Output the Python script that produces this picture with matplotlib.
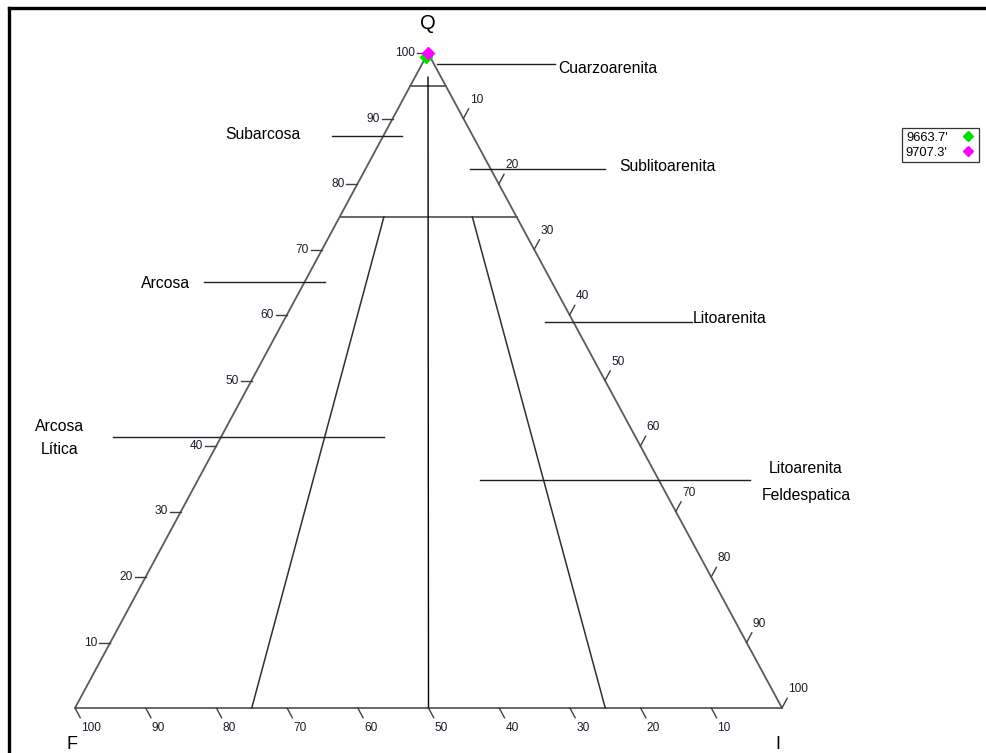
import numpy as np
import matplotlib
matplotlib.use("Agg")
import matplotlib.pyplot as plt
from matplotlib.lines import Line2D

plt.rcParams['font.family'] = ['Liberation Sans', 'DejaVu Sans']

# ---- data -------------------------------------------------------------
sample_names = ["9663.7'", "9707.3'"]
sample_q = [99.4, 100.0]          # quartz %
sample_f = [0.6, 0.0]             # feldspar %
sample_l = [0.0, 0.0]             # lithics %
sample_colors = ['#00e000', '#ff00ff']

tick_values = [10, 20, 30, 40, 50, 60, 70, 80, 90, 100]

# Folk classification boundaries
q_boundaries = [95, 75]                 # horizontal Q lines
split_ratios = [0.25, 0.75]             # L/(F+L) splits below Q=75
center_ratio = 0.5                      # F:L = 1:1 split

field_names = ['Cuarzoarenita', 'Subarcosa', 'Sublitoarenita', 'Arcosa',
               'Litoarenita', 'Arcosa\nLítica', 'Litoarenita\nFeldespatica']

# ---- layout -----------------------------------------------------------
W, H = 987, 753
V_Q = np.array([428.0, 53.0])
V_F = np.array([75.0, 708.0])
V_L = np.array([782.0, 708.0])


def tern(q, f, l):
    q, f, l = np.asarray(q, float), np.asarray(f, float), np.asarray(l, float)
    s = q + f + l
    x = (q * V_Q[0] + f * V_F[0] + l * V_L[0]) / s
    y = (q * V_Q[1] + f * V_F[1] + l * V_L[1]) / s
    return x, y


def unit(v):
    return v / np.hypot(*v)


fig = plt.figure(figsize=(W / 100, H / 100), dpi=100)
ax = fig.add_axes([0, 0, 1, 1])
ax.set_xlim(0, W)
ax.set_ylim(H, 0)
ax.axis('off')

# outer frame
ax.plot([9, W + 5], [7.5, 7.5], color='black', lw=2.4, solid_capstyle='projecting', clip_on=False)
ax.plot([9, 9], [7.5, H + 5], color='black', lw=2.4, solid_capstyle='projecting', clip_on=False)

edge_col = '#5a5a5a'
# triangle outline
tx, ty = tern([100, 0, 0, 100], [0, 100, 0, 0], [0, 0, 100, 0])
ax.plot(tx, ty, color=edge_col, lw=1.3, zorder=2)

# horizontal Q boundaries
for qb in q_boundaries:
    x, y = tern([qb, qb], [100 - qb, 0], [0, 100 - qb])
    ax.plot(x, y, color=edge_col, lw=1.3, zorder=2)

# central 1:1 line
x, y = tern([96.3, 0], [(100 - 96.3) * (1 - center_ratio), 100 * (1 - center_ratio)],
            [(100 - 96.3) * center_ratio, 100 * center_ratio])
ax.plot(x, y, color='black', lw=1.0, zorder=2)

# 3:1 and 1:3 lines below Q=75
for r in split_ratios:
    qs = np.array([q_boundaries[1], 0])
    x, y = tern(qs, (100 - qs) * (1 - r), (100 - qs) * r)
    ax.plot(x, y, color='#303030', lw=1.1, zorder=2)

# ---- ticks and tick labels --------------------------------------------
tick_len = 11
tick_col = '#404040'
lab_col = '#1c1c2a'
tick_fs = 8.6
d_left = unit(V_F - V_L)
d_right = unit(V_Q - V_F)
d_bottom = unit(V_L - V_Q)
for v in tick_values:
    # Q scale, left edge
    p = np.array(tern(v, 100 - v, 0))
    e = p + d_left * tick_len
    ax.plot([p[0], e[0]], [p[1], e[1]], color=tick_col, lw=1.0)
    ax.text(e[0] - 2, e[1], str(v), ha='right', va='center', fontsize=tick_fs, color=lab_col)
    # L scale, right edge
    p = np.array(tern(100 - v, 0, v))
    e = p + d_right * tick_len
    ax.plot([p[0], e[0]], [p[1], e[1]], color=tick_col, lw=1.0)
    ax.text(e[0] + 1, e[1] - 3, str(v), ha='left', va='bottom', fontsize=tick_fs, color=lab_col)
    # F scale, bottom edge
    p = np.array(tern(0, v, 100 - v))
    e = p + d_bottom * tick_len
    ax.plot([p[0], e[0]], [p[1], e[1]], color=tick_col, lw=1.0)
    ax.text(e[0] + 1, e[1] + 4, str(v), ha='left', va='top', fontsize=tick_fs, color=lab_col)

# corner labels
ax.text(V_Q[0], 23, 'Q', ha='center', va='center', fontsize=14.5)
ax.text(72, 749, 'F', ha='center', va='baseline', fontsize=13)
ax.text(778, 749, 'I', ha='center', va='baseline', fontsize=13)

# ---- field labels with leader lines -----------------------------------
leaders = [
    ((437, 555), 64, (558, 68), 'left', 1.2),
    ((332, 402), 136, (301, 134), 'right', 1.2),
    ((470, 605), 169, (619, 166), 'left', 1.2),
    ((204, 325), 282, (190, 283), 'right', 1.2),
    ((545, 692), 322, (693, 318), 'left', 1.2),
    ((113, 384), 437, (60, 438), 'center', 1.65),
    ((480, 750), 480, (806, 482), 'center', 2.0),
]
for name, (xs, yl, tp, ha, ls) in zip(field_names, leaders):
    ax.plot(xs, [yl, yl], color='#202020', lw=1.0)
    ax.text(tp[0], tp[1], name, ha=ha, va='center', fontsize=11.3,
            linespacing=ls, color='black')

# ---- samples ----------------------------------------------------------
handles = []
for name, q, f, l, c in zip(sample_names, sample_q, sample_f, sample_l, sample_colors):
    x, y = tern(q, f, l)
    ax.plot(x, y, marker='D', ms=6.5, color=c, mec=c, ls='none', zorder=5)
    handles.append(Line2D([], [], marker='D', ms=5.5, color=c, ls='none'))

leg = fig.legend(handles, sample_names, loc='upper left',
                 bbox_to_anchor=(902 / W, 1 - 128 / H), bbox_transform=fig.transFigure,
                 markerfirst=False, fontsize=9.3, frameon=True, fancybox=False,
                 borderpad=0.3, labelspacing=0.2, handlelength=1.0,
                 handletextpad=1.1, borderaxespad=0)
leg.get_frame().set_edgecolor('black')
leg.get_frame().set_linewidth(0.9)

fig.savefig('out.png', dpi=100)
